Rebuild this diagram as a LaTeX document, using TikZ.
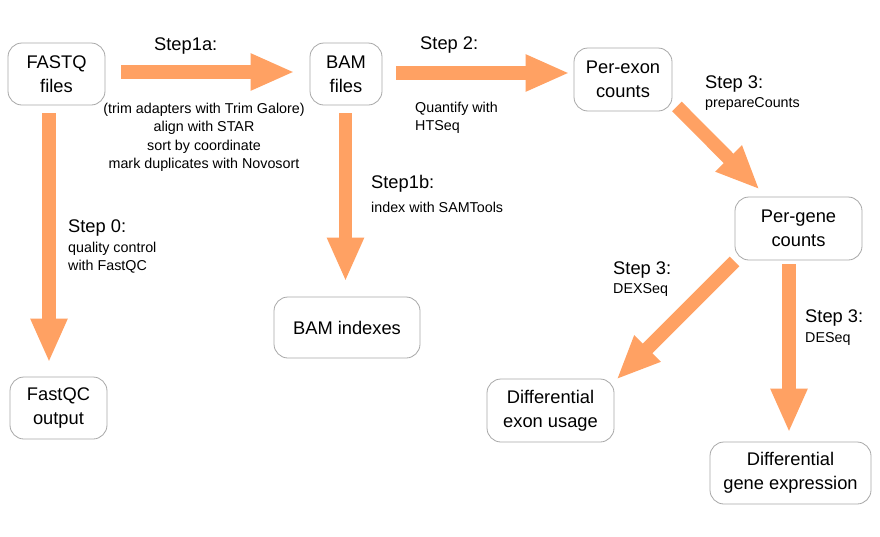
\documentclass[tikz,border=0pt]{standalone}
\usepackage{fontspec}
\setmainfont{Liberation Sans}
\usetikzlibrary{arrows.meta}
\definecolor{arr}{HTML}{FFA163}
\definecolor{bord}{HTML}{A8A8A8}
\begin{document}
\begin{tikzpicture}[x=1pt,y=-1pt,
 box/.style={draw=bord, line width=0.8pt, rounded corners=14pt, align=center, inner sep=0pt, font=\fontsize{18.3}{24}\selectfont},
 flow/.style={draw=arr, line width=13.5pt, -{Triangle[length=44pt,width=34pt]}},
 big/.style={anchor=base west, inner sep=0pt, font=\fontsize{18.3}{22}\selectfont},
 small/.style={anchor=base west, inner sep=0pt, font=\fontsize{14.3}{18}\selectfont},
 smallc/.style={anchor=base, inner sep=0pt, font=\fontsize{14.3}{18}\selectfont}]
\useasboundingbox[fill=white] (0,0) rectangle (880,536);

% nodes
\node[box, minimum width=97pt, minimum height=62pt] (fastq) at (56.5,74) {FASTQ\\files};
\node[box, minimum width=72pt, minimum height=62pt] (bam) at (346,74) {BAM\\files};
\node[box, minimum width=98pt, minimum height=63pt] (exon) at (623,79.5) {Per-exon\\counts};
\node[box, minimum width=127pt, minimum height=63pt] (gene) at (798.5,228.5) {Per-gene\\counts};
\node[box, minimum width=127pt, minimum height=63pt] (deu) at (550.5,410.5) {Differential\\exon usage};
\node[box, minimum width=161pt, minimum height=62pt] (dge) at (790.5,473) {Differential\\gene expression};
\node[box, minimum width=97pt, minimum height=62pt] (fastqc) at (58.5,408) {FastQC\\output};
\node[box, minimum width=146pt, minimum height=61pt] (bamidx) at (347,327.5) {BAM indexes};

% arrows
\draw[flow, shorten <=16pt, shorten >=15pt] ([yshift=2pt]fastq.east) -- ([yshift=2pt]fastq.east -| bam.west);
\draw[flow, shorten <=14pt, shorten >=4pt] ([yshift=1pt]bam.east) -- ([yshift=1pt]bam.east -| exon.west);
\draw[flow, shorten <=8pt, shorten >=14pt] ([xshift=-7.5pt]fastq.south) -- ([xshift=-7.5pt]fastq.south |- fastqc.north);
\draw[flow, shorten <=8pt, shorten >=15pt] ([xshift=-0.5pt]bam.south) -- ([xshift=-0.5pt]bam.south |- bamidx.north);
\draw[flow] ([shift={(4.5,-5)}]exon.south east) -- ([shift={(25,-7)}]gene.north west);
\draw[flow] ([shift={(0,1)}]gene.south west) -- ([shift={(2,1)}]deu.north east);
\draw[flow, shorten <=4pt, shorten >=9pt] ([xshift=-9.5pt]gene.south) -- ([xshift=-9.5pt]gene.south |- dge.north);

% labels
\node[big] (l1a) at (154,50.5) {Step1a:};
\node[smallc] (t1) at (204,113) {(trim adapters with Trim Galore)};
\node[smallc] (t2) at (204,131.5) {align with STAR};
\node[smallc] (t3) at (204,150) {sort by coordinate};
\node[smallc] (t4) at (204,168.5) {mark duplicates with Novosort};

\node[big] (l2) at (420,49.7) {Step 2:};
\node[small] (q1) at (415,112) {Quantify with};
\node[small] (q2) at (415,130.3) {HTSeq};

\node[big] (l3a) at (705,88) {Step 3:};
\node[small] (p1) at (705,107.6) {prepareCounts};

\node[big] (l1b) at (371,188) {Step1b:};
\node[small] (i1) at (371,212) {index with SAMTools};

\node[big] (l0) at (68,232.5) {Step 0:};
\node[small] (s1) at (68,252) {quality control};
\node[small] (s2) at (68,270.3) {with FastQC};

\node[big] (l3b) at (613,274.7) {Step 3:};
\node[small] (d1) at (613,293.6) {DEXSeq};

\node[big] (l3c) at (805,322.3) {Step 3:};
\node[small] (d2) at (805,342) {DESeq};
\end{tikzpicture}
\end{document}
